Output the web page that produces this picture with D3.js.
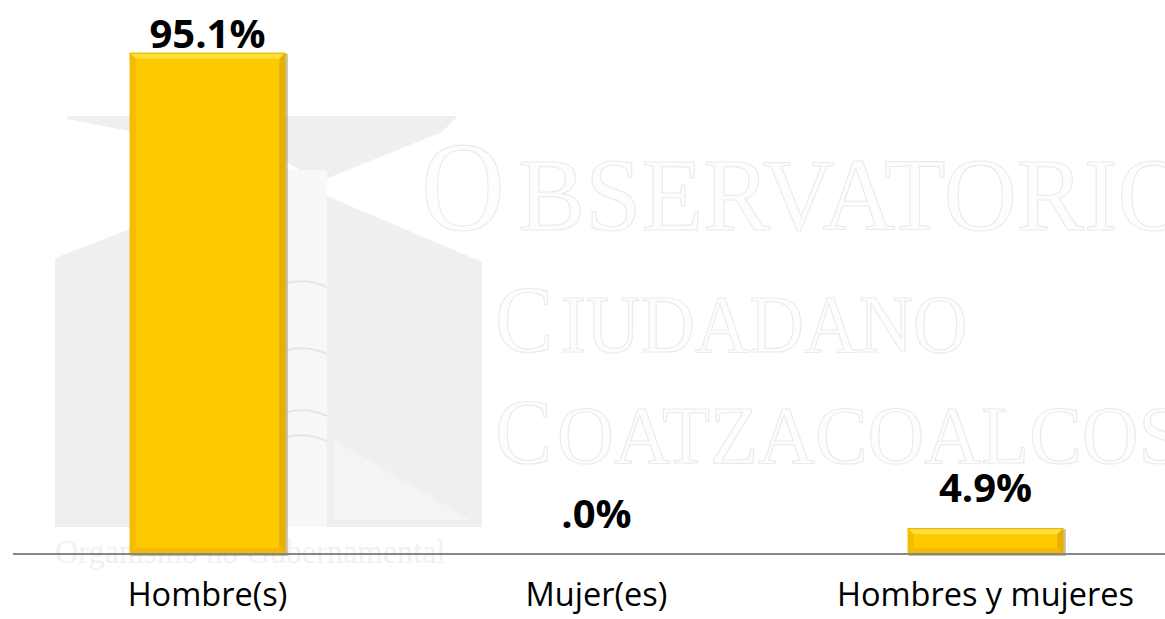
<!DOCTYPE html>
<html>
<head>
<meta charset="utf-8">
<script src="https://cdn.jsdelivr.net/npm/d3@7.9.0/dist/d3.min.js"></script>
<style>
  body { margin: 0; background: #fff; }
  svg { display: block; }
</style>
</head>
<body>
<div id="chart"></div>
<script>
const categories = ["Hombre(s)", "Mujer(es)", "Hombres y mujeres"];
const values = [95.1, 0.0, 4.9];
const valueLabels = ["95.1%", ".0%", "4.9%"];

const width = 1165, height = 619;
const baseY = 554;

const svg = d3.select("#chart").append("svg")
    .attr("width", width)
    .attr("height", height);

// faint watermark (logo + name) behind the chart
const wm = svg.append("g").attr("class", "watermark");
const grey = "#efefef";
wm.append("polygon").attr("points", "67,116 458,116 442,132 318,182 287,162 67,119").attr("fill", grey);
wm.append("polygon").attr("points", "55,258 130,229 287,168 287,527 55,527").attr("fill", grey);
wm.append("rect").attr("x", 287).attr("y", 170).attr("width", 40).attr("height", 357).attr("fill", "#f8f8f8");
wm.append("polygon").attr("points", "327,196 482,262 482,527 327,527").attr("fill", grey);
wm.append("polygon").attr("points", "335,440 470,520 335,520").attr("fill", "#f4f4f4");
[283, 350, 412, 437].forEach(y => {
  wm.append("path")
      .attr("d", `M287,${y} Q307,${y - 5} 327,${y + 4}`)
      .attr("fill", "none").attr("stroke", "#e6e6e6").attr("stroke-width", 2);
});
const wmText = (t, x, y, size, sx) => wm.append("text")
    .attr("transform", `translate(${x},${y}) scale(${sx},1)`)
    .attr("font-family", "Liberation Serif, serif")
    .attr("font-size", size)
    .attr("fill", "#fdfdfd")
    .attr("stroke", "#ebebeb")
    .attr("stroke-width", 1.2)
    .text(t);
wmText("O", 421, 230, 126, 0.92);
wmText("BSERVATORIO", 518, 230, 103, 0.98);
wmText("C", 495, 352, 95, 0.92);
wmText("IUDADANO", 561, 352, 82, 0.92);
wmText("C", 495, 463, 93, 0.92);
wmText("OATZACOALCOS", 557, 463, 82, 0.96);
wm.append("text")
    .attr("transform", "translate(55,563) scale(0.95,1)")
    .attr("font-family", "Liberation Serif, serif").attr("font-size", 34)
    .attr("fill", "#f1f1f1").text("Organismo no Gubernamental");

// scales
const x = d3.scaleBand()
    .domain(categories)
    .range([13, 1180])
    .paddingInner(0.6)
    .paddingOuter(0.3);

const y = d3.scaleLinear()
    .domain([0, 100])
    .range([baseY, 27]);

const data = categories.map((c, i) => ({ cat: c, value: values[i], label: valueLabels[i] }));

const bars = svg.append("g").selectAll("g.bar")
    .data(data)
    .join("g")
    .attr("class", "bar");

// bevelled gold bars
bars.filter(d => d.value > 0).each(function(d) {
  const g = d3.select(this);
  const x0 = x(d.cat), w = x.bandwidth();
  const y0 = y(d.value), h = baseY - y0;
  const b = Math.min(6, h / 3);
  g.append("rect").attr("x", x0 + 1).attr("y", y0 + 1).attr("width", w + 1.5).attr("height", h + 1)
      .attr("fill", "#a89260").attr("opacity", 0.6);
  g.append("rect").attr("x", x0).attr("y", y0).attr("width", w).attr("height", h)
      .attr("fill", "#fdca00");
  g.append("polygon")
      .attr("points", [[x0, y0], [x0 + w, y0], [x0 + w - b, y0 + b], [x0 + b, y0 + b]].join(" "))
      .attr("fill", "#ffdf3c");
  g.append("polygon")
      .attr("points", [[x0, baseY], [x0 + w, baseY], [x0 + w - b, baseY - b], [x0 + b, baseY - b]].join(" "))
      .attr("fill", "#f4bb00");
  g.append("polygon")
      .attr("points", [[x0, y0], [x0 + b, y0 + b], [x0 + b, baseY - b], [x0, baseY]].join(" "))
      .attr("fill", "#f0bd00");
  g.append("polygon")
      .attr("points", [[x0 + w, y0], [x0 + w - b, y0 + b], [x0 + w - b, baseY - b], [x0 + w, baseY]].join(" "))
      .attr("fill", "#e6b000");
  g.append("line").attr("x1", x0).attr("x2", x0 + w).attr("y1", y0 + 0.5).attr("y2", y0 + 0.5)
      .attr("stroke", "#e2b400").attr("stroke-width", 1);
});

// value labels
svg.append("g").selectAll("text")
    .data(data)
    .join("text")
    .attr("x", d => x(d.cat) + x.bandwidth() / 2)
    .attr("y", d => Math.max(y(d.value) - 26, 48))
    .attr("text-anchor", "middle")
    .attr("font-family", "Open Sans, sans-serif")
    .attr("font-weight", "bold")
    .attr("font-size", 40)
    .attr("fill", "#000")
    .text(d => d.label);

// baseline axis + category labels
const axis = svg.append("g")
    .attr("transform", `translate(0,${baseY})`)
    .call(d3.axisBottom(x).tickSize(0).tickPadding(0));
axis.select(".domain").attr("d", `M13,0H${width}`).attr("stroke", "#868686").attr("stroke-width", 2);
axis.selectAll(".tick text")
    .attr("y", 52)
    .attr("dy", 0)
    .attr("font-family", "Open Sans, sans-serif")
    .attr("font-size", 32.5)
    .attr("fill", "#000");
</script>
</body>
</html>
